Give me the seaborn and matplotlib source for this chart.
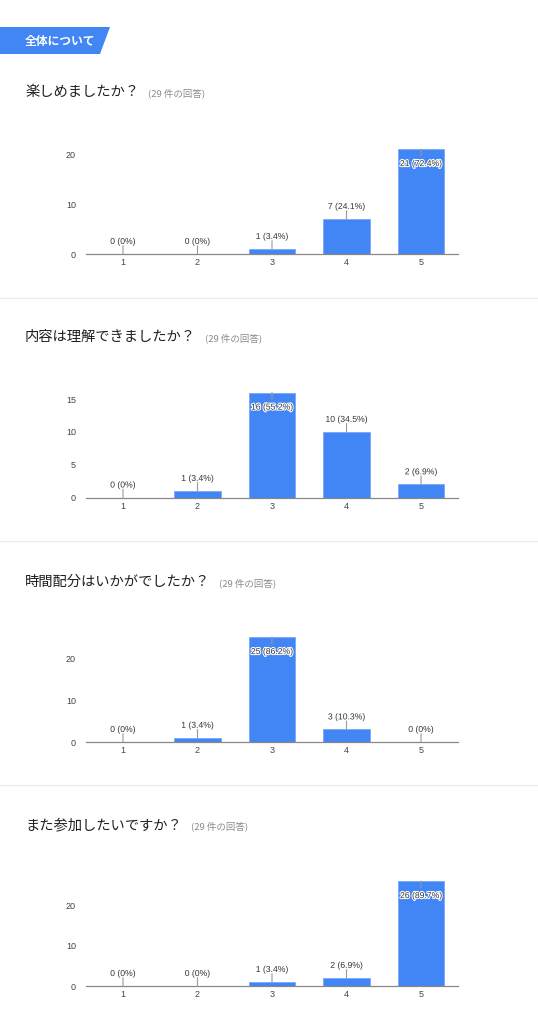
import matplotlib
matplotlib.use("Agg")
import matplotlib.pyplot as plt
import seaborn as sns
import matplotlib.patheffects as pe
from matplotlib.patches import Polygon
from matplotlib.lines import Line2D

# ---- data ----
section_title = "全体について"
questions = ["楽しめましたか？", "内容は理解できましたか？", "時間配分はいかがでしたか？", "また参加したいですか？"]
total = 29
categories = ["1", "2", "3", "4", "5"]
q1_counts = [0, 0, 1, 7, 21]
q2_counts = [0, 1, 16, 10, 2]
q3_counts = [0, 1, 25, 3, 0]
q4_counts = [0, 0, 1, 2, 26]
q1_ticks = [0, 10, 20]
q2_ticks = [0, 5, 10, 15]
q3_ticks = [0, 10, 20]
q4_ticks = [0, 10, 20]

series = [q1_counts, q2_counts, q3_counts, q4_counts]
yticks = [q1_ticks, q2_ticks, q3_ticks, q4_ticks]

sns.set_style("white")
plt.rcParams['font.family'] = ['Noto Sans CJK JP', 'DejaVu Sans']
NUM_FONT = ['Liberation Sans', 'DejaVu Sans']

W, H = 538, 1024
fig = plt.figure(figsize=(W / 100, H / 100), dpi=100)
fig.patch.set_facecolor("white")

def fx(x):
    return x / W

def fy(y):
    return 1 - y / H

BLUE = "#4285f4"

# banner
fig.add_artist(Polygon([(fx(0), fy(27)), (fx(110), fy(27)), (fx(100), fy(54)), (fx(0), fy(54))],
                       closed=True, transform=fig.transFigure, facecolor=BLUE, edgecolor="none"))
fig.text(fx(25), fy(41), section_title, color="white", fontsize=8.5, fontweight="bold",
         ha="left", va="center")

# separators
for y in [298, 541, 785]:
    fig.add_artist(Line2D([0, 1], [fy(y), fy(y)], transform=fig.transFigure, color="#ececec", lw=1))

title_y = [92, 337, 582, 825]
baselines = [254, 497.5, 742, 986]
ax_h = 105
left, right = 85.7, 458.3

fig.canvas.draw()
renderer = fig.canvas.get_renderer()

for k in range(4):
    t = fig.text(fx(25), fy(title_y[k]), questions[k], fontsize=10.3, color="#202020",
                 ha="left", va="center")
    bb = t.get_window_extent(renderer=renderer)
    fig.text(bb.x1 / W + fx(9), fy(title_y[k] + 1), f"({total} 件の回答)", fontsize=6.8,
             color="#8a8a8a", ha="left", va="center")

    vals = series[k]
    vmax = max(vals)
    ax = fig.add_axes([fx(left), fy(baselines[k]), (right - left) / W, ax_h / H])
    sns.barplot(x=categories, y=vals, ax=ax, color=BLUE, saturation=1, width=0.62,
                edgecolor="#7aa9f7", linewidth=0.6)
    ax.set_xlim(-0.5, 4.5)
    ax.set_ylim(0, vmax)
    ax.set_yticks(yticks[k])
    ax.set_yticklabels([str(v) for v in yticks[k]], fontsize=6.5, color="#444444", family=NUM_FONT)
    ax.set_xticks(range(5))
    ax.set_xticklabels(categories, fontsize=6.5, color="#444444", family=NUM_FONT)
    ax.tick_params(axis="y", length=0, pad=7)
    ax.tick_params(axis="x", length=0, pad=3)
    ax.set_xlabel("")
    ax.set_ylabel("")
    for s in ["top", "right", "left"]:
        ax.spines[s].set_visible(False)
    ax.spines["bottom"].set_color("#888888")
    ax.spines["bottom"].set_linewidth(0.9)
    ax.spines["bottom"].set_zorder(5)
    ax.patch.set_alpha(0)

    for i, v in enumerate(vals):
        pct = "0%" if v == 0 else f"{v / total * 100:.1f}%"
        label = f"{v} ({pct})"
        if v == vmax:
            line_end, text_off = -5.0, -10.5
        else:
            line_end, text_off = 6.0, 9.0
        ax.annotate("", xy=(i, v), xytext=(0, line_end), textcoords="offset points",
                    arrowprops=dict(arrowstyle="-", color="#999999", lw=0.8, shrinkA=0, shrinkB=0),
                    annotation_clip=False, zorder=6)
        ax.annotate(label, xy=(i, v), xytext=(0, text_off), textcoords="offset points",
                    ha="center", va="center", fontsize=6.2, color="#333333", family=NUM_FONT,
                    annotation_clip=False, zorder=7,
                    path_effects=[pe.withStroke(linewidth=1.5, foreground="white")])

fig.savefig("out.png", dpi=100, facecolor="white")
